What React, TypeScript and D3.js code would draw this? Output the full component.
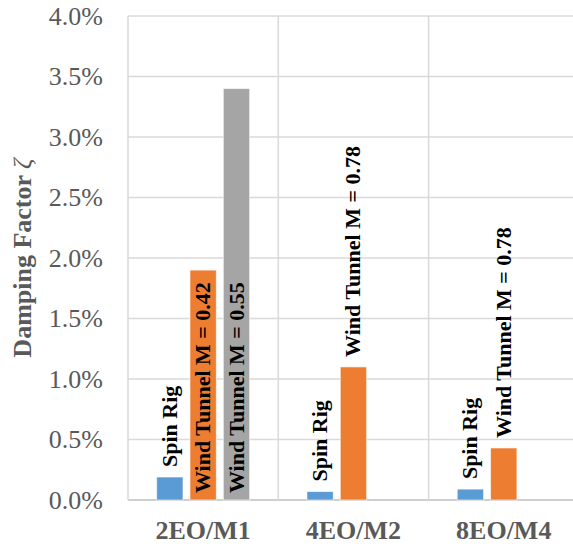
import { useMemo } from 'react';
import * as d3 from 'd3';

const categories = ['2EO/M1', '4EO/M2', '8EO/M4'];
const seriesNames = ['Spin Rig', 'Wind Tunnel A', 'Wind Tunnel B'];
const spinRig = [0.0019, 0.0007, 0.0009];
const windTunnelA = [0.019, 0.011, 0.0043];
const windTunnelB: (number | null)[] = [0.034, null, null];
const labelsA = ['Wind Tunnel M = 0.42', 'Wind Tunnel M = 0.78', 'Wind Tunnel M = 0.78'];
const labelsB = ['Wind Tunnel M = 0.55', '', ''];
const yTicks = [0, 0.005, 0.01, 0.015, 0.02, 0.025, 0.03, 0.035, 0.04];

const COLORS = ['#5B9BD5', '#ED7D31', '#A5A5A5'];
const W = 573;
const H = 546;
const LEFT = 128;
const TOP = 16;
const BOTTOM = 500;
const RIGHT = LEFT + 3 * 150.3;
const SERIF = "'Liberation Serif', 'DejaVu Serif', 'Times New Roman', serif";
const LABEL_SIZE = 22;

interface Bar {
  key: string;
  cat: string;
  series: string;
  value: number;
  label: string;
  color: string;
}

export default function App() {
  const x = useMemo(
    () => d3.scaleBand<string>().domain(categories).range([LEFT, RIGHT]).padding(0),
    [],
  );
  const x1 = useMemo(
    () => d3.scaleBand<string>().domain(seriesNames).range([0, 93]).paddingInner(0.21),
    [],
  );
  const y = useMemo(
    () => d3.scaleLinear().domain([0, 0.04]).range([BOTTOM, TOP]),
    [],
  );

  const bars: Bar[] = [];
  categories.forEach((cat, i) => {
    const vals = [spinRig[i], windTunnelA[i], windTunnelB[i]];
    const labs = ['Spin Rig', labelsA[i], labelsB[i]];
    vals.forEach((v, s) => {
      if (v == null) return;
      bars.push({
        key: `${cat}-${s}`,
        cat,
        series: seriesNames[s],
        value: v,
        label: labs[s],
        color: COLORS[s],
      });
    });
  });

  // rough label length for Times bold, to pick inside-base vs outside-end
  const approxLen = (t: string) => t.length * LABEL_SIZE * 0.48;

  return (
    <svg
      width={W}
      height={H}
      style={{ position: 'absolute', left: 0, top: 0, background: '#fff', fontFamily: SERIF }}
    >
      {/* horizontal grid */}
      {yTicks.map((t) => (
        <line
          key={t}
          x1={LEFT}
          x2={RIGHT}
          y1={y(t)}
          y2={y(t)}
          stroke={t === 0 ? '#bfbfbf' : '#d9d9d9'}
          strokeWidth={1.5}
        />
      ))}
      {/* vertical grid at category boundaries */}
      {categories.map((c) => (
        <line
          key={c}
          x1={x(c)!}
          x2={x(c)!}
          y1={TOP}
          y2={BOTTOM}
          stroke="#d9d9d9"
          strokeWidth={1.5}
        />
      ))}
      <line x1={RIGHT} x2={RIGHT} y1={TOP} y2={BOTTOM} stroke="#d9d9d9" strokeWidth={1.5} />

      {/* y tick labels */}
      {yTicks.map((t) => (
        <text
          key={t}
          x={103}
          y={y(t)}
          dy="0.34em"
          textAnchor="end"
          fontSize={26}
          fill="#595959"
        >
          {d3.format('.1%')(t)}
        </text>
      ))}

      {/* bars */}
      {bars.map((b) => {
        const x0 = x(b.cat)! + x.bandwidth() / 2 - 46.5 + x1(b.series)!;
        const top = y(b.value);
        return (
          <rect
            key={b.key}
            x={x0}
            y={top}
            width={x1.bandwidth()}
            height={BOTTOM - top}
            fill={b.color}
            stroke="#ffffff"
            strokeOpacity={0.6}
            strokeWidth={1}
          />
        );
      })}

      {/* data labels */}
      {bars.map((b) => {
        if (!b.label) return null;
        const cx = x(b.cat)! + x.bandwidth() / 2 - 46.5 + x1(b.series)! + x1.bandwidth() / 2;
        const top = y(b.value);
        const inside = BOTTOM - top > approxLen(b.label);
        const ty = inside ? BOTTOM - 7 : top - 10;
        return (
          <text
            key={`l-${b.key}`}
            transform={`translate(${cx},${ty}) rotate(-90)`}
            dy="0.32em"
            fontSize={LABEL_SIZE}
            fontWeight="bold"
            fill="#000"
          >
            {b.label}
          </text>
        );
      })}

      {/* category labels */}
      {categories.map((c) => (
        <text
          key={`c-${c}`}
          x={x(c)! + x.bandwidth() / 2}
          y={539}
          textAnchor="middle"
          fontSize={26}
          fontWeight="bold"
          fill="#595959"
        >
          {c}
        </text>
      ))}

      {/* y axis title */}
      <text
        transform={`translate(31,${(TOP + BOTTOM) / 2}) rotate(-90)`}
        textAnchor="middle"
        fontSize={26}
        fontWeight="bold"
        fill="#595959"
      >
        Damping Factor{' '}
        <tspan fontStyle="italic" fontWeight="normal">
          ζ
        </tspan>
      </text>
    </svg>
  );
}
